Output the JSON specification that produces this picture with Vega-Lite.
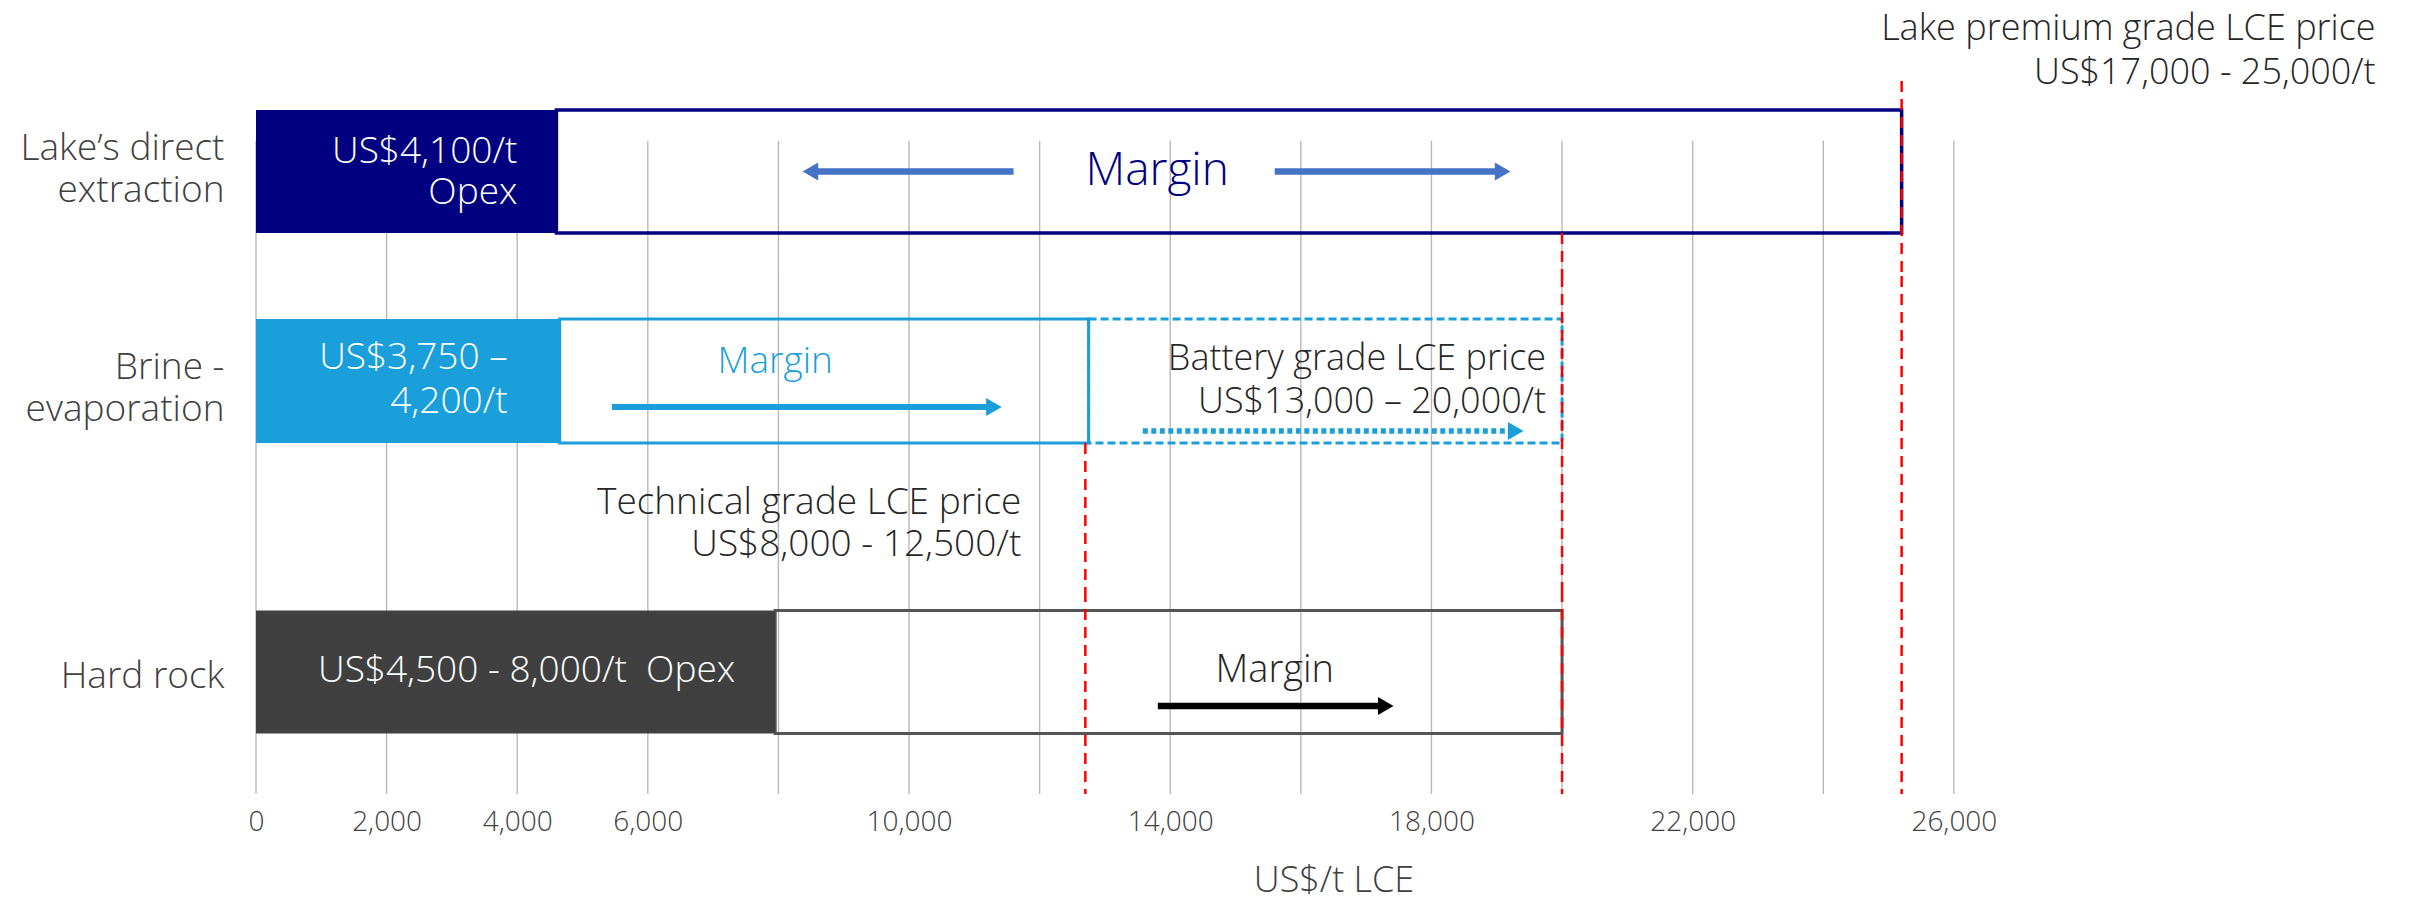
{
  "$schema": "https://vega.github.io/schema/vega-lite/v6.json",
  "padding": {"left": 0, "top": 0, "right": 0, "bottom": 24},
  "spacing": 0,
  "bounds": "flush",
  "background": "white",
  "config": {
    "font": "Open Sans",
    "view": {"stroke": "transparent"},
    "text": {"font": "Open Sans", "fontWeight": 300},
    "axis": {"labelFont": "Open Sans", "titleFont": "Open Sans", "labelFontWeight": 300, "titleFontWeight": 300, "labelColor": "#404040", "titleColor": "#404040", "domain": false, "ticks": false, "grid": false}
  },
  "resolve": {"scale": {"x": "independent", "y": "independent"}, "axis": {"x": "independent", "y": "independent"}},
  "datasets": {
    "grid": [{"value": 0}, {"value": 2000}, {"value": 4000}, {"value": 6000}, {"value": 8000}, {"value": 10000}, {"value": 12000}, {"value": 14000}, {"value": 16000}, {"value": 18000}, {"value": 20000}, {"value": 22000}, {"value": 24000}, {"value": 26000}]
  },
  "vconcat": [
    {
      "width": 2155,
      "height": 275,
      "data": {"values": [{"route": "Lake’s direct extraction", "opex_from": 0, "opex_to": 4600, "price_to": 25200, "opex_label": "US$4,100/t\nOpex"}]},
      "layer": [
        {
          "data": {"name": "grid"},
          "mark": {"type": "rule", "color": "#B8B8B8", "strokeWidth": 1.4},
          "encoding": {
            "x": {"field": "value", "type": "quantitative", "scale": {"domain": [0, 33000], "nice": false, "zero": false}, "axis": null},
            "y": {"datum": "Lake’s direct extraction", "type": "nominal", "bandPosition": 0.25, "scale": {"type": "band", "domain": ["Lake’s direct extraction"], "paddingInner": 0, "paddingOuter": 0.6179, "align": 0.7171},
              "axis": {"title": null, "labelFontSize": 37, "labelLineHeight": 42, "labelOffset": -22.5, "labelPadding": 32, "labelLimit": 400, "minExtent": 255, "maxExtent": 255, "labelExpr": "length(datum.value) > 10 ? [substring(datum.value, 0, lastindexof(datum.value, ' ')), substring(datum.value, lastindexof(datum.value, ' ') + 1)] : datum.value"}},
            "y2": {"value": "height"}
          }
        },
        {
          "mark": {"type": "bar", "fill": "transparent", "stroke": "#000080", "strokeWidth": 3.5},
          "encoding": {
            "x": {"field": "opex_to", "type": "quantitative", "scale": {"domain": [0, 33000], "nice": false, "zero": false}, "axis": null},
            "x2": {"field": "price_to"},
            "y": {"field": "route", "type": "nominal", "scale": {"type": "band", "domain": ["Lake’s direct extraction"], "paddingInner": 0, "paddingOuter": 0.6179, "align": 0.7171},
              "axis": {"title": null, "labelFontSize": 37, "labelLineHeight": 42, "labelOffset": -22.5, "labelPadding": 32, "labelLimit": 400, "minExtent": 255, "maxExtent": 255, "labelExpr": "length(datum.value) > 10 ? [substring(datum.value, 0, lastindexof(datum.value, ' ')), substring(datum.value, lastindexof(datum.value, ' ') + 1)] : datum.value"}}
          }
        },
        {
          "mark": {"type": "bar", "color": "#000080"},
          "encoding": {
            "x": {"field": "opex_from", "type": "quantitative", "scale": {"domain": [0, 33000], "nice": false, "zero": false}, "axis": null},
            "x2": {"field": "opex_to"},
            "y": {"field": "route", "type": "nominal", "scale": {"type": "band", "domain": ["Lake’s direct extraction"], "paddingInner": 0, "paddingOuter": 0.6179, "align": 0.7171},
              "axis": {"title": null, "labelFontSize": 37, "labelLineHeight": 42, "labelOffset": -22.5, "labelPadding": 32, "labelLimit": 400, "minExtent": 255, "maxExtent": 255, "labelExpr": "length(datum.value) > 10 ? [substring(datum.value, 0, lastindexof(datum.value, ' ')), substring(datum.value, lastindexof(datum.value, ' ') + 1)] : datum.value"}}
          }
        },
        {
          "data": {"values": [{"price": 25200}]},
          "mark": {"type": "rule", "color": "#FF0000", "strokeWidth": 2.5, "strokeDash": [11, 7]},
          "encoding": {
            "x": {"field": "price", "type": "quantitative", "scale": {"domain": [0, 33000], "nice": false, "zero": false}, "axis": null},
            "y": {"datum": "Lake’s direct extraction", "type": "nominal", "bandPosition": -0.236, "scale": {"type": "band", "domain": ["Lake’s direct extraction"], "paddingInner": 0, "paddingOuter": 0.6179, "align": 0.7171},
              "axis": {"title": null, "labelFontSize": 37, "labelLineHeight": 42, "labelOffset": -22.5, "labelPadding": 32, "labelLimit": 400, "minExtent": 255, "maxExtent": 255, "labelExpr": "length(datum.value) > 10 ? [substring(datum.value, 0, lastindexof(datum.value, ' ')), substring(datum.value, lastindexof(datum.value, ' ') + 1)] : datum.value"}},
            "y2": {"value": "height"}
          }
        },
        {
          "data": {"values": [{"price": 20000}]},
          "mark": {"type": "rule", "color": "#FF0000", "strokeWidth": 2.5, "strokeDash": [11, 7]},
          "encoding": {
            "x": {"field": "price", "type": "quantitative", "scale": {"domain": [0, 33000], "nice": false, "zero": false}, "axis": null},
            "y": {"datum": "Lake’s direct extraction", "type": "nominal", "bandPosition": 1, "scale": {"type": "band", "domain": ["Lake’s direct extraction"], "paddingInner": 0, "paddingOuter": 0.6179, "align": 0.7171},
              "axis": {"title": null, "labelFontSize": 37, "labelLineHeight": 42, "labelOffset": -22.5, "labelPadding": 32, "labelLimit": 400, "minExtent": 255, "maxExtent": 255, "labelExpr": "length(datum.value) > 10 ? [substring(datum.value, 0, lastindexof(datum.value, ' ')), substring(datum.value, lastindexof(datum.value, ' ') + 1)] : datum.value"}},
            "y2": {"value": "height"}
          }
        },
        {
          "mark": {"type": "text", "align": "right", "baseline": "middle", "dx": -39, "dy": -19, "fontSize": 37, "lineHeight": 41, "lineBreak": "\n", "color": "white"},
          "encoding": {
            "x": {"field": "opex_to", "type": "quantitative", "scale": {"domain": [0, 33000], "nice": false, "zero": false}, "axis": null},
            "y": {"field": "route", "type": "nominal", "scale": {"type": "band", "domain": ["Lake’s direct extraction"], "paddingInner": 0, "paddingOuter": 0.6179, "align": 0.7171},
              "axis": {"title": null, "labelFontSize": 37, "labelLineHeight": 42, "labelOffset": -22.5, "labelPadding": 32, "labelLimit": 400, "minExtent": 255, "maxExtent": 255, "labelExpr": "length(datum.value) > 10 ? [substring(datum.value, 0, lastindexof(datum.value, ' ')), substring(datum.value, lastindexof(datum.value, ' ') + 1)] : datum.value"}},
            "text": {"field": "opex_label"}
          }
        },
        {
          "data": {"values": [{"route": "Lake’s direct extraction", "price": 25200, "label": "Lake premium grade LCE price\nUS$17,000 - 25,000/t"}]},
          "mark": {"type": "text", "align": "right", "baseline": "middle", "dx": 474, "dy": -142.5, "fontSize": 36, "lineHeight": 44, "lineBreak": "\n", "color": "#262626"},
          "encoding": {
            "x": {"field": "price", "type": "quantitative", "scale": {"domain": [0, 33000], "nice": false, "zero": false}, "axis": null},
            "y": {"field": "route", "type": "nominal", "scale": {"type": "band", "domain": ["Lake’s direct extraction"], "paddingInner": 0, "paddingOuter": 0.6179, "align": 0.7171},
              "axis": {"title": null, "labelFontSize": 37, "labelLineHeight": 42, "labelOffset": -22.5, "labelPadding": 32, "labelLimit": 400, "minExtent": 255, "maxExtent": 255, "labelExpr": "length(datum.value) > 10 ? [substring(datum.value, 0, lastindexof(datum.value, ' ')), substring(datum.value, lastindexof(datum.value, ' ') + 1)] : datum.value"}},
            "text": {"field": "label"}
          }
        },
        {
          "data": {"values": [{"route": "Lake’s direct extraction", "at": 13800, "label": "Margin"}]},
          "mark": {"type": "text", "align": "center", "baseline": "middle", "fontSize": 46, "color": "#000080"},
          "encoding": {
            "x": {"field": "at", "type": "quantitative", "scale": {"domain": [0, 33000], "nice": false, "zero": false}, "axis": null},
            "y": {"field": "route", "type": "nominal", "scale": {"type": "band", "domain": ["Lake’s direct extraction"], "paddingInner": 0, "paddingOuter": 0.6179, "align": 0.7171},
              "axis": {"title": null, "labelFontSize": 37, "labelLineHeight": 42, "labelOffset": -22.5, "labelPadding": 32, "labelLimit": 400, "minExtent": 255, "maxExtent": 255, "labelExpr": "length(datum.value) > 10 ? [substring(datum.value, 0, lastindexof(datum.value, ' ')), substring(datum.value, lastindexof(datum.value, ' ') + 1)] : datum.value"}},
            "text": {"field": "label"}
          }
        },
        {
          "data": {"values": [{"route": "Lake’s direct extraction", "from": 11600, "to": 8490}, {"route": "Lake’s direct extraction", "from": 15600, "to": 19090}]},
          "mark": {"type": "rule", "color": "#4472C4", "strokeWidth": 6.5},
          "encoding": {
            "x": {"field": "from", "type": "quantitative", "scale": {"domain": [0, 33000], "nice": false, "zero": false}, "axis": null},
            "x2": {"field": "to"},
            "y": {"field": "route", "type": "nominal", "bandPosition": 0.5, "scale": {"type": "band", "domain": ["Lake’s direct extraction"], "paddingInner": 0, "paddingOuter": 0.6179, "align": 0.7171},
              "axis": {"title": null, "labelFontSize": 37, "labelLineHeight": 42, "labelOffset": -22.5, "labelPadding": 32, "labelLimit": 400, "minExtent": 255, "maxExtent": 255, "labelExpr": "length(datum.value) > 10 ? [substring(datum.value, 0, lastindexof(datum.value, ' ')), substring(datum.value, lastindexof(datum.value, ' ') + 1)] : datum.value"}}
          }
        },
        {
          "data": {"values": [{"route": "Lake’s direct extraction", "from": 11600, "to": 8490}, {"route": "Lake’s direct extraction", "from": 15600, "to": 19090}]},
          "mark": {"type": "point", "filled": true, "size": 324, "color": "#4472C4", "opacity": 1, "strokeWidth": 0},
          "encoding": {
            "x": {"field": "to", "type": "quantitative", "scale": {"domain": [0, 33000], "nice": false, "zero": false}, "axis": null},
            "y": {"field": "route", "type": "nominal", "bandPosition": 0.5, "scale": {"type": "band", "domain": ["Lake’s direct extraction"], "paddingInner": 0, "paddingOuter": 0.6179, "align": 0.7171},
              "axis": {"title": null, "labelFontSize": 37, "labelLineHeight": 42, "labelOffset": -22.5, "labelPadding": 32, "labelLimit": 400, "minExtent": 255, "maxExtent": 255, "labelExpr": "length(datum.value) > 10 ? [substring(datum.value, 0, lastindexof(datum.value, ' ')), substring(datum.value, lastindexof(datum.value, ' ') + 1)] : datum.value"}},
            "shape": {"condition": {"test": "datum.to < datum.from", "value": "triangle-left"}, "value": "triangle-right"}
          }
        }
      ]
    },
    {
      "width": 2155,
      "height": 315,
      "data": {"values": [{"route": "Brine - evaporation", "opex_from": 0, "opex_to": 4650, "margin_to": 12750, "battery_to": 20000, "opex_label": "US$3,750 –\n4,200/t"}]},
      "layer": [
        {
          "data": {"name": "grid"},
          "mark": {"type": "rule", "color": "#B8B8B8", "strokeWidth": 1.4},
          "encoding": {
            "x": {"field": "value", "type": "quantitative", "scale": {"domain": [0, 33000], "nice": false, "zero": false}, "axis": null}
          }
        },
        {
          "mark": {"type": "bar", "fill": "transparent", "stroke": "#1A9FDA", "strokeWidth": 3},
          "encoding": {
            "x": {"field": "opex_to", "type": "quantitative", "scale": {"domain": [0, 33000], "nice": false, "zero": false}, "axis": null},
            "x2": {"field": "margin_to"},
            "y": {"field": "route", "type": "nominal", "scale": {"type": "band", "domain": ["Brine - evaporation"], "paddingInner": 0, "paddingOuter": 0.7702, "align": 0.2251},
              "axis": {"title": null, "labelFontSize": 37, "labelLineHeight": 42, "labelOffset": -13, "labelPadding": 32, "labelLimit": 400, "minExtent": 255, "maxExtent": 255, "labelExpr": "length(datum.value) > 10 ? [substring(datum.value, 0, lastindexof(datum.value, ' ')), substring(datum.value, lastindexof(datum.value, ' ') + 1)] : datum.value"}}
          }
        },
        {
          "mark": {"type": "bar", "fill": "transparent", "stroke": "#1A9FDA", "strokeWidth": 3, "strokeDash": [8, 4]},
          "encoding": {
            "x": {"field": "margin_to", "type": "quantitative", "scale": {"domain": [0, 33000], "nice": false, "zero": false}, "axis": null},
            "x2": {"field": "battery_to"},
            "y": {"field": "route", "type": "nominal", "scale": {"type": "band", "domain": ["Brine - evaporation"], "paddingInner": 0, "paddingOuter": 0.7702, "align": 0.2251},
              "axis": {"title": null, "labelFontSize": 37, "labelLineHeight": 42, "labelOffset": -13, "labelPadding": 32, "labelLimit": 400, "minExtent": 255, "maxExtent": 255, "labelExpr": "length(datum.value) > 10 ? [substring(datum.value, 0, lastindexof(datum.value, ' ')), substring(datum.value, lastindexof(datum.value, ' ') + 1)] : datum.value"}}
          }
        },
        {
          "mark": {"type": "bar", "color": "#1A9FDA"},
          "encoding": {
            "x": {"field": "opex_from", "type": "quantitative", "scale": {"domain": [0, 33000], "nice": false, "zero": false}, "axis": null},
            "x2": {"field": "opex_to"},
            "y": {"field": "route", "type": "nominal", "scale": {"type": "band", "domain": ["Brine - evaporation"], "paddingInner": 0, "paddingOuter": 0.7702, "align": 0.2251},
              "axis": {"title": null, "labelFontSize": 37, "labelLineHeight": 42, "labelOffset": -13, "labelPadding": 32, "labelLimit": 400, "minExtent": 255, "maxExtent": 255, "labelExpr": "length(datum.value) > 10 ? [substring(datum.value, 0, lastindexof(datum.value, ' ')), substring(datum.value, lastindexof(datum.value, ' ') + 1)] : datum.value"}}
          }
        },
        {
          "data": {"values": [{"price": 20000}, {"price": 25200}]},
          "mark": {"type": "rule", "color": "#FF0000", "strokeWidth": 2.5, "strokeDash": [11, 7]},
          "encoding": {
            "x": {"field": "price", "type": "quantitative", "scale": {"domain": [0, 33000], "nice": false, "zero": false}, "axis": null}
          }
        },
        {
          "data": {"values": [{"price": 12700}]},
          "mark": {"type": "rule", "color": "#FF0000", "strokeWidth": 2.5, "strokeDash": [11, 7]},
          "encoding": {
            "x": {"field": "price", "type": "quantitative", "scale": {"domain": [0, 33000], "nice": false, "zero": false}, "axis": null},
            "y": {"datum": "Brine - evaporation", "type": "nominal", "bandPosition": 1, "scale": {"type": "band", "domain": ["Brine - evaporation"], "paddingInner": 0, "paddingOuter": 0.7702, "align": 0.2251},
              "axis": {"title": null, "labelFontSize": 37, "labelLineHeight": 42, "labelOffset": -13, "labelPadding": 32, "labelLimit": 400, "minExtent": 255, "maxExtent": 255, "labelExpr": "length(datum.value) > 10 ? [substring(datum.value, 0, lastindexof(datum.value, ' ')), substring(datum.value, lastindexof(datum.value, ' ') + 1)] : datum.value"}},
            "y2": {"value": "height"}
          }
        },
        {
          "mark": {"type": "text", "align": "right", "baseline": "middle", "dx": -52, "dy": -22.5, "fontSize": 37, "lineHeight": 44, "lineBreak": "\n", "color": "white"},
          "encoding": {
            "x": {"field": "opex_to", "type": "quantitative", "scale": {"domain": [0, 33000], "nice": false, "zero": false}, "axis": null},
            "y": {"field": "route", "type": "nominal", "scale": {"type": "band", "domain": ["Brine - evaporation"], "paddingInner": 0, "paddingOuter": 0.7702, "align": 0.2251},
              "axis": {"title": null, "labelFontSize": 37, "labelLineHeight": 42, "labelOffset": -13, "labelPadding": 32, "labelLimit": 400, "minExtent": 255, "maxExtent": 255, "labelExpr": "length(datum.value) > 10 ? [substring(datum.value, 0, lastindexof(datum.value, ' ')), substring(datum.value, lastindexof(datum.value, ' ') + 1)] : datum.value"}},
            "text": {"field": "opex_label"}
          }
        },
        {
          "data": {"values": [{"route": "Brine - evaporation", "at": 7950, "label": "Margin"}]},
          "mark": {"type": "text", "align": "center", "baseline": "middle", "dy": -18.5, "fontSize": 37, "color": "#1A9FDA"},
          "encoding": {
            "x": {"field": "at", "type": "quantitative", "scale": {"domain": [0, 33000], "nice": false, "zero": false}, "axis": null},
            "y": {"field": "route", "type": "nominal", "scale": {"type": "band", "domain": ["Brine - evaporation"], "paddingInner": 0, "paddingOuter": 0.7702, "align": 0.2251},
              "axis": {"title": null, "labelFontSize": 37, "labelLineHeight": 42, "labelOffset": -13, "labelPadding": 32, "labelLimit": 400, "minExtent": 255, "maxExtent": 255, "labelExpr": "length(datum.value) > 10 ? [substring(datum.value, 0, lastindexof(datum.value, ' ')), substring(datum.value, lastindexof(datum.value, ' ') + 1)] : datum.value"}},
            "text": {"field": "label"}
          }
        },
        {
          "data": {"values": [{"route": "Brine - evaporation", "price": 20000, "label": "Battery grade LCE price\nUS$13,000 – 20,000/t"}]},
          "mark": {"type": "text", "align": "right", "baseline": "middle", "dx": -16, "dy": -21.5, "fontSize": 36, "lineHeight": 43, "lineBreak": "\n", "color": "#262626"},
          "encoding": {
            "x": {"field": "price", "type": "quantitative", "scale": {"domain": [0, 33000], "nice": false, "zero": false}, "axis": null},
            "y": {"field": "route", "type": "nominal", "scale": {"type": "band", "domain": ["Brine - evaporation"], "paddingInner": 0, "paddingOuter": 0.7702, "align": 0.2251},
              "axis": {"title": null, "labelFontSize": 37, "labelLineHeight": 42, "labelOffset": -13, "labelPadding": 32, "labelLimit": 400, "minExtent": 255, "maxExtent": 255, "labelExpr": "length(datum.value) > 10 ? [substring(datum.value, 0, lastindexof(datum.value, ' ')), substring(datum.value, lastindexof(datum.value, ' ') + 1)] : datum.value"}},
            "text": {"field": "label"}
          }
        },
        {
          "data": {"values": [{"route": "Brine - evaporation", "price": 12700, "label": "Technical grade LCE price\nUS$8,000 - 12,500/t"}]},
          "mark": {"type": "text", "align": "right", "baseline": "middle", "dx": -64, "dy": 122, "fontSize": 37, "lineHeight": 42, "lineBreak": "\n", "color": "#262626"},
          "encoding": {
            "x": {"field": "price", "type": "quantitative", "scale": {"domain": [0, 33000], "nice": false, "zero": false}, "axis": null},
            "y": {"field": "route", "type": "nominal", "scale": {"type": "band", "domain": ["Brine - evaporation"], "paddingInner": 0, "paddingOuter": 0.7702, "align": 0.2251},
              "axis": {"title": null, "labelFontSize": 37, "labelLineHeight": 42, "labelOffset": -13, "labelPadding": 32, "labelLimit": 400, "minExtent": 255, "maxExtent": 255, "labelExpr": "length(datum.value) > 10 ? [substring(datum.value, 0, lastindexof(datum.value, ' ')), substring(datum.value, lastindexof(datum.value, ' ') + 1)] : datum.value"}},
            "text": {"field": "label"}
          }
        },
        {
          "data": {"values": [{"route": "Brine - evaporation", "from": 5450, "to": 11300}]},
          "mark": {"type": "rule", "color": "#1A9FDA", "strokeWidth": 6},
          "encoding": {
            "x": {"field": "from", "type": "quantitative", "scale": {"domain": [0, 33000], "nice": false, "zero": false}, "axis": null},
            "x2": {"field": "to"},
            "y": {"field": "route", "type": "nominal", "bandPosition": 0.71, "scale": {"type": "band", "domain": ["Brine - evaporation"], "paddingInner": 0, "paddingOuter": 0.7702, "align": 0.2251},
              "axis": {"title": null, "labelFontSize": 37, "labelLineHeight": 42, "labelOffset": -13, "labelPadding": 32, "labelLimit": 400, "minExtent": 255, "maxExtent": 255, "labelExpr": "length(datum.value) > 10 ? [substring(datum.value, 0, lastindexof(datum.value, ' ')), substring(datum.value, lastindexof(datum.value, ' ') + 1)] : datum.value"}}
          }
        },
        {
          "data": {"values": [{"route": "Brine - evaporation", "from": 5450, "to": 11300}]},
          "mark": {"type": "point", "filled": true, "size": 324, "color": "#1A9FDA", "opacity": 1, "strokeWidth": 0, "shape": "triangle-right"},
          "encoding": {
            "x": {"field": "to", "type": "quantitative", "scale": {"domain": [0, 33000], "nice": false, "zero": false}, "axis": null},
            "y": {"field": "route", "type": "nominal", "bandPosition": 0.71, "scale": {"type": "band", "domain": ["Brine - evaporation"], "paddingInner": 0, "paddingOuter": 0.7702, "align": 0.2251},
              "axis": {"title": null, "labelFontSize": 37, "labelLineHeight": 42, "labelOffset": -13, "labelPadding": 32, "labelLimit": 400, "minExtent": 255, "maxExtent": 255, "labelExpr": "length(datum.value) > 10 ? [substring(datum.value, 0, lastindexof(datum.value, ' ')), substring(datum.value, lastindexof(datum.value, ' ') + 1)] : datum.value"}}
          }
        },
        {
          "data": {"values": [{"route": "Brine - evaporation", "from": 13580, "to": 19290}]},
          "mark": {"type": "rule", "color": "#1A9FDA", "strokeWidth": 5.5, "strokeDash": [5, 3.5]},
          "encoding": {
            "x": {"field": "from", "type": "quantitative", "scale": {"domain": [0, 33000], "nice": false, "zero": false}, "axis": null},
            "x2": {"field": "to"},
            "y": {"field": "route", "type": "nominal", "bandPosition": 0.903, "scale": {"type": "band", "domain": ["Brine - evaporation"], "paddingInner": 0, "paddingOuter": 0.7702, "align": 0.2251},
              "axis": {"title": null, "labelFontSize": 37, "labelLineHeight": 42, "labelOffset": -13, "labelPadding": 32, "labelLimit": 400, "minExtent": 255, "maxExtent": 255, "labelExpr": "length(datum.value) > 10 ? [substring(datum.value, 0, lastindexof(datum.value, ' ')), substring(datum.value, lastindexof(datum.value, ' ') + 1)] : datum.value"}}
          }
        },
        {
          "data": {"values": [{"route": "Brine - evaporation", "from": 13580, "to": 19290}]},
          "mark": {"type": "point", "filled": true, "size": 324, "color": "#1A9FDA", "opacity": 1, "strokeWidth": 0, "shape": "triangle-right"},
          "encoding": {
            "x": {"field": "to", "type": "quantitative", "scale": {"domain": [0, 33000], "nice": false, "zero": false}, "axis": null},
            "y": {"field": "route", "type": "nominal", "bandPosition": 0.903, "scale": {"type": "band", "domain": ["Brine - evaporation"], "paddingInner": 0, "paddingOuter": 0.7702, "align": 0.2251},
              "axis": {"title": null, "labelFontSize": 37, "labelLineHeight": 42, "labelOffset": -13, "labelPadding": 32, "labelLimit": 400, "minExtent": 255, "maxExtent": 255, "labelExpr": "length(datum.value) > 10 ? [substring(datum.value, 0, lastindexof(datum.value, ' ')), substring(datum.value, lastindexof(datum.value, ' ') + 1)] : datum.value"}}
          }
        }
      ]
    },
    {
      "width": 2155,
      "height": 203,
      "data": {"values": [{"route": "Hard rock", "opex_from": 0, "opex_to": 7950, "margin_to": 20000, "opex_label": "US$4,500 - 8,000/t \u00a0Opex"}]},
      "layer": [
        {
          "data": {"name": "grid"},
          "mark": {"type": "rule", "color": "#B8B8B8", "strokeWidth": 1.4},
          "encoding": {
            "x": {"field": "value", "type": "quantitative", "scale": {"domain": [0, 33000], "nice": false, "zero": false},
              "axis": {"values": [0, 2000, 4000, 6000, 10000, 14000, 18000, 22000, 26000], "format": ",.0f", "labelFontSize": 28, "labelPadding": 14, "labelFlush": false, "labelOverlap": false, "title": "US$/t LCE", "titleFontSize": 36, "titlePadding": 27}}
          }
        },
        {
          "mark": {"type": "bar", "fill": "transparent", "stroke": "#555555", "strokeWidth": 3},
          "encoding": {
            "x": {"field": "opex_to", "type": "quantitative", "scale": {"domain": [0, 33000], "nice": false, "zero": false},
              "axis": {"values": [0, 2000, 4000, 6000, 10000, 14000, 18000, 22000, 26000], "format": ",.0f", "labelFontSize": 28, "labelPadding": 14, "labelFlush": false, "labelOverlap": false, "title": "US$/t LCE", "titleFontSize": 36, "titlePadding": 27}},
            "x2": {"field": "margin_to"},
            "y": {"field": "route", "type": "nominal", "scale": {"type": "band", "domain": ["Hard rock"], "paddingInner": 0, "paddingOuter": 0.3252, "align": 0.2438},
              "axis": {"title": null, "labelFontSize": 37, "labelLineHeight": 42, "labelOffset": 5, "labelPadding": 32, "labelLimit": 400, "minExtent": 255, "maxExtent": 255, "labelExpr": "length(datum.value) > 10 ? [substring(datum.value, 0, lastindexof(datum.value, ' ')), substring(datum.value, lastindexof(datum.value, ' ') + 1)] : datum.value"}}
          }
        },
        {
          "mark": {"type": "bar", "color": "#404040"},
          "encoding": {
            "x": {"field": "opex_from", "type": "quantitative", "scale": {"domain": [0, 33000], "nice": false, "zero": false},
              "axis": {"values": [0, 2000, 4000, 6000, 10000, 14000, 18000, 22000, 26000], "format": ",.0f", "labelFontSize": 28, "labelPadding": 14, "labelFlush": false, "labelOverlap": false, "title": "US$/t LCE", "titleFontSize": 36, "titlePadding": 27}},
            "x2": {"field": "opex_to"},
            "y": {"field": "route", "type": "nominal", "scale": {"type": "band", "domain": ["Hard rock"], "paddingInner": 0, "paddingOuter": 0.3252, "align": 0.2438},
              "axis": {"title": null, "labelFontSize": 37, "labelLineHeight": 42, "labelOffset": 5, "labelPadding": 32, "labelLimit": 400, "minExtent": 255, "maxExtent": 255, "labelExpr": "length(datum.value) > 10 ? [substring(datum.value, 0, lastindexof(datum.value, ' ')), substring(datum.value, lastindexof(datum.value, ' ') + 1)] : datum.value"}}
          }
        },
        {
          "data": {"values": [{"price": 12700}, {"price": 20000}, {"price": 25200}]},
          "mark": {"type": "rule", "color": "#FF0000", "strokeWidth": 2.5, "strokeDash": [11, 7]},
          "encoding": {
            "x": {"field": "price", "type": "quantitative", "scale": {"domain": [0, 33000], "nice": false, "zero": false},
              "axis": {"values": [0, 2000, 4000, 6000, 10000, 14000, 18000, 22000, 26000], "format": ",.0f", "labelFontSize": 28, "labelPadding": 14, "labelFlush": false, "labelOverlap": false, "title": "US$/t LCE", "titleFontSize": 36, "titlePadding": 27}}
          }
        },
        {
          "mark": {"type": "text", "align": "right", "baseline": "middle", "dx": -40, "dy": -1.5, "fontSize": 37, "color": "white"},
          "encoding": {
            "x": {"field": "opex_to", "type": "quantitative", "scale": {"domain": [0, 33000], "nice": false, "zero": false},
              "axis": {"values": [0, 2000, 4000, 6000, 10000, 14000, 18000, 22000, 26000], "format": ",.0f", "labelFontSize": 28, "labelPadding": 14, "labelFlush": false, "labelOverlap": false, "title": "US$/t LCE", "titleFontSize": 36, "titlePadding": 27}},
            "y": {"field": "route", "type": "nominal", "scale": {"type": "band", "domain": ["Hard rock"], "paddingInner": 0, "paddingOuter": 0.3252, "align": 0.2438},
              "axis": {"title": null, "labelFontSize": 37, "labelLineHeight": 42, "labelOffset": 5, "labelPadding": 32, "labelLimit": 400, "minExtent": 255, "maxExtent": 255, "labelExpr": "length(datum.value) > 10 ? [substring(datum.value, 0, lastindexof(datum.value, ' ')), substring(datum.value, lastindexof(datum.value, ' ') + 1)] : datum.value"}},
            "text": {"field": "opex_label"}
          }
        },
        {
          "data": {"values": [{"route": "Hard rock", "at": 15600, "label": "Margin"}]},
          "mark": {"type": "text", "align": "center", "baseline": "middle", "dy": -1, "fontSize": 38, "color": "#262626"},
          "encoding": {
            "x": {"field": "at", "type": "quantitative", "scale": {"domain": [0, 33000], "nice": false, "zero": false},
              "axis": {"values": [0, 2000, 4000, 6000, 10000, 14000, 18000, 22000, 26000], "format": ",.0f", "labelFontSize": 28, "labelPadding": 14, "labelFlush": false, "labelOverlap": false, "title": "US$/t LCE", "titleFontSize": 36, "titlePadding": 27}},
            "y": {"field": "route", "type": "nominal", "scale": {"type": "band", "domain": ["Hard rock"], "paddingInner": 0, "paddingOuter": 0.3252, "align": 0.2438},
              "axis": {"title": null, "labelFontSize": 37, "labelLineHeight": 42, "labelOffset": 5, "labelPadding": 32, "labelLimit": 400, "minExtent": 255, "maxExtent": 255, "labelExpr": "length(datum.value) > 10 ? [substring(datum.value, 0, lastindexof(datum.value, ' ')), substring(datum.value, lastindexof(datum.value, ' ') + 1)] : datum.value"}},
            "text": {"field": "label"}
          }
        },
        {
          "data": {"values": [{"route": "Hard rock", "from": 13810, "to": 17300}]},
          "mark": {"type": "rule", "color": "#000000", "strokeWidth": 6.5},
          "encoding": {
            "x": {"field": "from", "type": "quantitative", "scale": {"domain": [0, 33000], "nice": false, "zero": false},
              "axis": {"values": [0, 2000, 4000, 6000, 10000, 14000, 18000, 22000, 26000], "format": ",.0f", "labelFontSize": 28, "labelPadding": 14, "labelFlush": false, "labelOverlap": false, "title": "US$/t LCE", "titleFontSize": 36, "titlePadding": 27}},
            "x2": {"field": "to"},
            "y": {"field": "route", "type": "nominal", "bandPosition": 0.776, "scale": {"type": "band", "domain": ["Hard rock"], "paddingInner": 0, "paddingOuter": 0.3252, "align": 0.2438},
              "axis": {"title": null, "labelFontSize": 37, "labelLineHeight": 42, "labelOffset": 5, "labelPadding": 32, "labelLimit": 400, "minExtent": 255, "maxExtent": 255, "labelExpr": "length(datum.value) > 10 ? [substring(datum.value, 0, lastindexof(datum.value, ' ')), substring(datum.value, lastindexof(datum.value, ' ') + 1)] : datum.value"}}
          }
        },
        {
          "data": {"values": [{"route": "Hard rock", "from": 13810, "to": 17300}]},
          "mark": {"type": "point", "filled": true, "size": 324, "color": "#000000", "opacity": 1, "strokeWidth": 0, "shape": "triangle-right"},
          "encoding": {
            "x": {"field": "to", "type": "quantitative", "scale": {"domain": [0, 33000], "nice": false, "zero": false},
              "axis": {"values": [0, 2000, 4000, 6000, 10000, 14000, 18000, 22000, 26000], "format": ",.0f", "labelFontSize": 28, "labelPadding": 14, "labelFlush": false, "labelOverlap": false, "title": "US$/t LCE", "titleFontSize": 36, "titlePadding": 27}},
            "y": {"field": "route", "type": "nominal", "bandPosition": 0.776, "scale": {"type": "band", "domain": ["Hard rock"], "paddingInner": 0, "paddingOuter": 0.3252, "align": 0.2438},
              "axis": {"title": null, "labelFontSize": 37, "labelLineHeight": 42, "labelOffset": 5, "labelPadding": 32, "labelLimit": 400, "minExtent": 255, "maxExtent": 255, "labelExpr": "length(datum.value) > 10 ? [substring(datum.value, 0, lastindexof(datum.value, ' ')), substring(datum.value, lastindexof(datum.value, ' ') + 1)] : datum.value"}}
          }
        }
      ]
    }
  ]
}
